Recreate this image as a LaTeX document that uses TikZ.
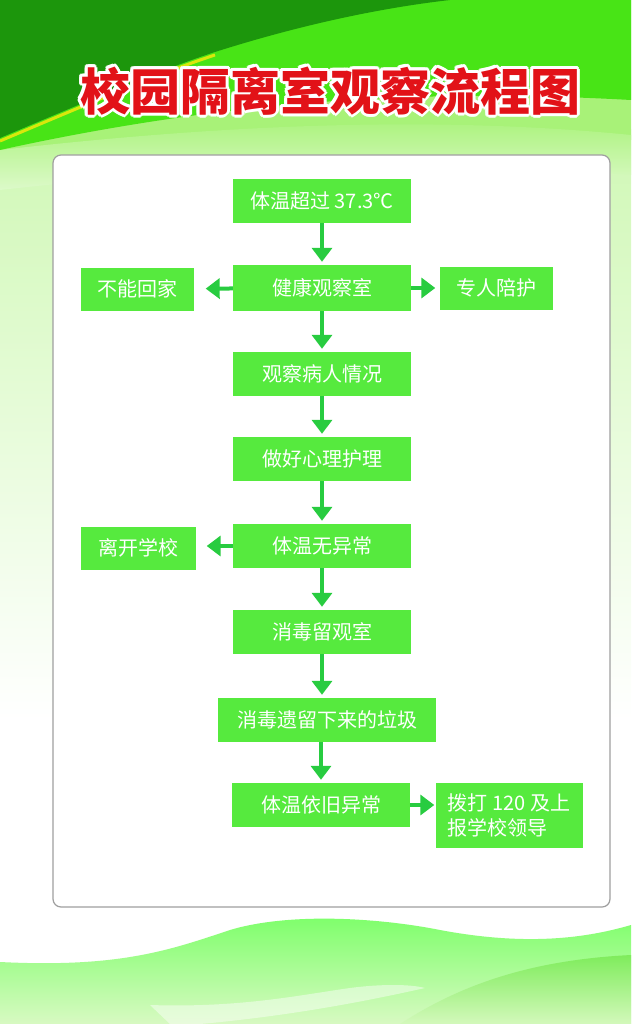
\documentclass[tikz,border=0pt]{standalone}
\usepackage{fontspec}
\newfontfamily\cjk{Noto Sans CJK SC}
\usetikzlibrary{arrows.meta,positioning}
\definecolor{darkleaf}{RGB}{28,150,12}
\definecolor{brightleaf}{RGB}{72,228,22}
\definecolor{paleleaf}{RGB}{168,242,120}
\definecolor{boxgreen}{RGB}{86,234,62}
\definecolor{arrowgreen}{RGB}{40,204,64}
\definecolor{titlered}{RGB}{226,18,24}
\begin{document}
\begin{tikzpicture}[x=1pt,y=-1pt]
 \tikzset{stepbox/.style={fill=boxgreen, text=white, minimum width=178pt, minimum height=44pt,
   inner sep=2pt, font=\cjk\fontsize{20}{24}\selectfont}}
 \tikzset{sidebox/.style={stepbox, minimum width=113pt, minimum height=43pt}}
 \tikzset{flow/.style={-{Triangle[width=20pt,length=14pt]}, arrowgreen, line width=4pt}}
 \tikzset{titletext/.style={font=\cjk\bfseries\fontsize{50}{50}\selectfont}}
  % background
  \useasboundingbox (0,0) rectangle (631,1024);
  \fill[white] (0,0) rectangle (631,1024);
  \shade[top color=paleleaf!55!white, bottom color=white] (0,130) rectangle (631,720);
  \fill[paleleaf] (0,0) -- (631,0) -- (631,140) .. controls (430,125) and (220,140) .. (0,178) -- cycle;
  \shade[top color=paleleaf, bottom color=paleleaf!40!white] (0,150) .. controls (220,125) and (430,115) .. (631,135)
    -- (631,175) .. controls (430,160) and (220,165) .. (0,190) -- cycle;
  \fill[brightleaf] (0,0) -- (631,0) -- (631,100) .. controls (450,90) and (250,95) .. (0,150) -- cycle;
  \fill[darkleaf] (0,0) -- (450,0) .. controls (380,8) and (300,25) .. (215,52)
    .. controls (160,70) and (90,100) .. (0,138) -- cycle;
  \draw[yellow!85!green, line width=3pt] (0,141) .. controls (90,103) and (160,73) .. (215,55);
  % bottom waves
  \shade[top color=green!55!white!90!lime, bottom color=paleleaf!45!white]
    (0,962) .. controls (120,968) and (170,950) .. (230,930) .. controls (290,912) and (380,918) .. (440,930)
    .. controls (520,945) and (580,940) .. (631,925) -- (631,1024) -- (0,1024) -- cycle;
  \shade[top color=brightleaf!70!white, bottom color=paleleaf!50!white]
    (400,1024) .. controls (460,985) and (530,960) .. (631,955) -- (631,1024) -- cycle;
  \fill[white, opacity=0.45] (150,1005) .. controls (240,1008) and (300,995) .. (350,988)
    .. controls (380,984) and (410,984) .. (425,988) .. controls (380,998) and (300,1015) .. (200,1024) -- (170,1024) -- cycle;
  % panel
  \draw[gray!75, line width=1.2pt, fill=white, rounded corners=8pt] (53,155) rectangle (610,907);
  % title
  \foreach \a in {0,30,...,330}
    \node[titletext, white, shift={(\a:3pt)}] (title-\a) at (330,91) {校园隔离室观察流程图};
  \node[titletext, titlered] (title) at (330,91) {校园隔离室观察流程图};
  % steps
  \node[stepbox] (Fever) at (322,201) {体温超过 37.3℃};
  \node[stepbox, minimum height=46pt] (HealthRoom) at (322,288) {健康观察室};
  \node[sidebox] (NoHome) at (137,289) {不能回家};
  \node[sidebox] (Escort) at (496,288) {专人陪护};
  \node[stepbox] (Observe) at (322,374) {观察病人情况};
  \node[stepbox] (Care) at (322,459) {做好心理护理};
  \node[stepbox] (Normal) at (322,546) {体温无异常};
  \node[sidebox, minimum width=115pt] (Leave) at (138,548) {离开学校};
  \node[stepbox] (Disinfect) at (322,632) {消毒留观室};
  \node[stepbox, minimum width=218pt] (Garbage) at (327,720) {消毒遗留下来的垃圾};
  \node[stepbox] (StillHigh) at (321,805) {体温依旧异常};
  \node[stepbox, minimum width=147pt, minimum height=65pt, align=left,
    font=\cjk\fontsize{20}{25}\selectfont] (Call) at (509,815) {拨打 120 及上\\报学校领导};
  % arrows
  \draw[flow, shorten >=3pt] (Fever) -- (HealthRoom);
  \draw[flow, shorten >=12pt] (HealthRoom) -- (NoHome);
  \draw[flow, shorten >=4pt] (HealthRoom) -- (Escort);
  \draw[flow, shorten >=3pt] (HealthRoom) -- (Observe);
  \draw[flow, shorten >=3pt] (Observe) -- (Care);
  \draw[flow, shorten >=3pt] (Care) -- (Normal);
  \draw[flow, shorten >=11pt] (Normal.west) -- (Normal.west -| Leave.east);
  \draw[flow, shorten >=3pt] (Normal) -- (Disinfect);
  \draw[flow, shorten >=3pt] (Disinfect.south) -- (Disinfect.south |- Garbage.north);
  \draw[flow, shorten >=3pt] (Garbage.south -| StillHigh) -- (StillHigh);
  \draw[flow, shorten >=1pt] (StillHigh.east) -- (StillHigh.east -| Call.west);
\end{tikzpicture}
\end{document}
